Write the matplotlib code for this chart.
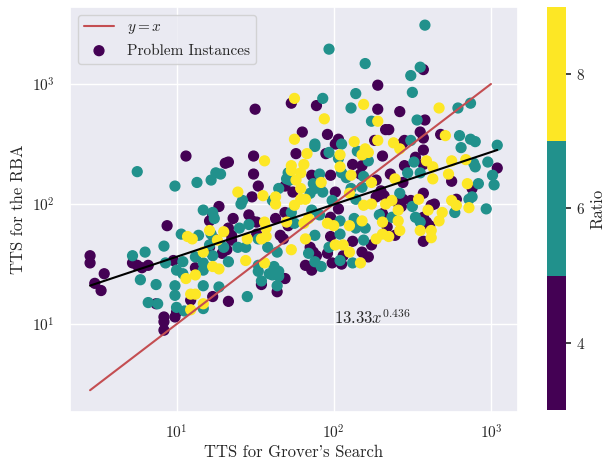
import numpy as np
import matplotlib.pyplot as plt
import seaborn as sns

# values, stored as log10(TTS)
# ratio 4 (purple)
grover_log_r4 = [2.28, 1.73, 1.50, 1.89, 2.28, 1.80, 1.96, 2.03, 2.26, 2.33, 2.57, 2.42, 2.58, 2.35,
                 2.55, 2.57, 2.68, 2.45, 1.06, 1.31, 1.27, 1.23, 1.21, 0.94, 1.24, 1.21, 1.29, 0.45,
                 0.45, 0.72, 0.75, 0.82, 0.78, 0.98, 1.12, 0.54, 0.48, 0.52, 0.92, 0.92, 0.92, 0.99,
                 1.00, 0.87, 1.09, 1.23, 1.33, 1.54, 1.64, 1.69, 1.32, 2.01, 1.33, 1.49, 1.76, 1.95,
                 2.31, 2.12, 2.18, 1.86, 1.98, 2.17, 2.27, 1.49, 1.52, 1.48, 1.69, 1.74, 1.91, 2.01,
                 2.03, 2.27, 2.30, 1.36, 1.33, 1.35, 1.46, 1.48, 1.51, 1.63, 1.69, 1.71, 1.98, 1.35,
                 1.51, 1.66, 1.68, 1.85, 1.87, 1.98, 1.96, 2.06, 2.12, 2.18, 2.24, 1.82, 1.86, 1.89,
                 1.99, 2.05, 2.22, 2.44, 2.52, 2.57, 2.57, 2.45, 3.04, 2.75, 2.88, 2.78, 2.64, 2.62,
                 2.57, 2.36, 2.44, 2.32, 2.40, 2.44, 2.43, 2.49, 2.34, 2.39, 2.57, 2.59, 2.61, 2.57,
                 2.31]
rba_log_r4 = [2.99, 2.84, 2.79, 2.82, 2.79, 2.60, 2.58, 2.54, 2.53, 2.62, 3.12, 2.77, 2.70, 2.62,
              2.60, 2.55, 2.58, 2.53, 2.40, 2.34, 1.98, 1.91, 1.86, 1.82, 1.71, 1.64, 1.59, 1.57,
              1.51, 1.51, 1.49, 1.49, 1.47, 1.53, 1.47, 1.42, 1.34, 1.28, 1.06, 1.02, 0.95, 1.06,
              1.10, 1.17, 1.20, 1.23, 1.19, 1.33, 1.27, 1.38, 1.62, 2.50, 2.35, 2.40, 2.42, 2.42,
              2.40, 2.33, 2.32, 2.24, 2.24, 2.25, 2.20, 2.25, 2.15, 2.06, 2.15, 2.10, 2.15, 2.10,
              1.96, 2.06, 2.11, 1.88, 1.80, 1.74, 1.91, 1.86, 1.85, 1.88, 1.93, 1.82, 1.89, 1.70,
              1.75, 1.74, 1.71, 1.64, 1.60, 1.73, 1.59, 1.57, 1.69, 1.60, 1.66, 1.49, 1.45, 1.57,
              1.51, 1.50, 1.56, 2.51, 2.39, 2.45, 2.33, 2.32, 2.30, 2.19, 2.13, 2.04, 2.00, 1.99,
              2.09, 2.25, 2.18, 2.07, 2.02, 2.04, 1.98, 2.03, 1.81, 1.74, 1.89, 1.85, 1.82, 1.69,
              1.92]

# ratio 6 (teal)
grover_log_r6 = [1.97, 2.20, 1.93, 2.14, 2.11, 2.24, 1.88, 2.05, 2.58, 2.55, 2.49, 2.50, 2.79, 2.87,
                 2.53, 2.80, 2.87, 2.90, 2.49, 3.04, 0.75, 1.25, 1.28, 0.99, 1.13, 1.22, 1.17, 1.23,
                 1.24, 1.03, 1.14, 1.22, 0.92, 1.21, 1.30, 1.23, 0.80, 0.72, 0.93, 1.04, 1.12, 1.17,
                 1.17, 1.00, 1.04, 0.77, 0.87, 0.99, 0.99, 0.82, 0.88, 1.00, 1.17, 1.05, 1.17, 1.27,
                 1.45, 1.54, 1.64, 1.61, 1.65, 1.88, 1.97, 2.03, 2.15, 2.22, 1.71, 1.91, 2.05, 2.08,
                 2.19, 1.42, 1.41, 1.61, 1.65, 1.72, 1.70, 1.85, 1.88, 1.87, 1.93, 1.99, 2.14, 2.11,
                 2.18, 1.40, 1.46, 1.73, 1.75, 1.86, 1.91, 2.04, 2.13, 2.14, 2.20, 2.29, 1.39, 1.44,
                 1.52, 1.58, 1.64, 1.84, 1.88, 2.04, 1.97, 2.19, 2.12, 1.33, 1.52, 1.52, 1.62, 1.59,
                 1.65, 1.88, 1.92, 2.04, 2.81, 2.51, 2.89, 2.90, 2.98, 2.47, 2.55, 3.01, 3.02, 2.92,
                 2.88, 2.86, 2.97, 2.77, 2.42, 2.50, 2.37, 2.52, 2.55]
rba_log_r6 = [3.29, 3.17, 2.88, 2.92, 2.80, 2.69, 2.50, 2.50, 3.49, 3.14, 3.07, 2.93, 2.80, 2.84,
              2.70, 2.57, 2.54, 2.52, 2.53, 2.49, 2.27, 2.26, 2.25, 2.15, 2.18, 2.20, 1.95, 1.93,
              1.88, 1.75, 1.74, 1.75, 1.65, 1.66, 1.64, 1.57, 1.60, 1.57, 1.51, 1.52, 1.56, 1.51,
              1.45, 1.45, 1.42, 1.37, 1.33, 1.32, 1.24, 1.18, 1.17, 1.14, 1.32, 1.11, 1.13, 1.31,
              1.23, 1.36, 1.32, 1.41, 1.40, 2.48, 2.43, 2.38, 2.44, 2.36, 2.26, 2.25, 2.26, 2.22,
              2.23, 2.03, 2.00, 2.03, 2.13, 2.20, 2.21, 2.09, 2.13, 2.17, 2.10, 2.03, 2.04, 2.13,
              2.14, 1.80, 1.83, 1.93, 1.84, 1.95, 1.91, 1.86, 1.88, 1.80, 1.80, 1.91, 1.64, 1.64,
              1.71, 1.64, 1.60, 1.59, 1.74, 1.75, 1.64, 1.70, 1.51, 1.52, 1.49, 1.44, 1.48, 1.42,
              1.44, 1.52, 1.48, 1.53, 2.47, 2.35, 2.34, 2.31, 2.35, 2.26, 2.26, 2.24, 2.16, 2.17,
              2.06, 2.04, 1.96, 1.93, 2.09, 1.98, 1.89, 1.89, 1.85]

# ratio 8 (yellow)
grover_log_r8 = [1.75, 2.19, 1.94, 2.28, 1.75, 2.13, 2.28, 2.67, 2.71, 2.38, 1.21, 1.30, 1.07, 1.10,
                 1.26, 1.17, 1.23, 1.27, 1.06, 1.12, 1.09, 1.12, 1.09, 1.17, 2.20, 1.56, 1.83, 2.04,
                 2.18, 2.22, 1.73, 1.81, 1.73, 1.79, 2.04, 2.11, 2.24, 1.39, 1.55, 1.63, 1.63, 1.76,
                 1.79, 1.79, 1.82, 1.92, 2.10, 2.19, 2.24, 1.56, 1.57, 1.75, 1.70, 1.81, 1.84, 1.96,
                 2.00, 2.18, 2.10, 2.31, 2.31, 1.45, 1.54, 1.57, 1.73, 1.82, 2.01, 2.06, 2.10, 2.27,
                 1.44, 1.56, 2.17, 2.42, 2.59, 2.63, 2.75, 2.84, 2.63, 2.73, 2.85, 2.86, 2.78, 2.75,
                 2.69, 2.67, 2.60, 2.54, 2.39, 2.33, 2.37, 2.41, 2.41, 2.42, 2.35, 2.55, 2.62, 2.62]
rba_log_r8 = [2.88, 2.83, 2.71, 2.69, 2.54, 2.52, 2.53, 2.80, 2.57, 2.51, 1.78, 1.77, 1.73, 1.71,
              1.70, 1.60, 1.48, 1.46, 1.38, 1.41, 1.25, 1.25, 1.12, 1.17, 2.46, 2.36, 2.42, 2.41,
              2.41, 2.43, 2.32, 2.33, 2.28, 2.26, 2.31, 2.24, 2.18, 2.10, 2.07, 2.06, 2.00, 2.20,
              2.13, 2.04, 2.04, 2.18, 2.09, 1.99, 2.00, 1.85, 1.80, 1.99, 1.85, 1.84, 1.88, 1.84,
              1.82, 1.86, 1.82, 1.85, 1.75, 1.71, 1.71, 1.73, 1.62, 1.71, 1.66, 1.66, 1.60, 1.71,
              1.53, 1.51, 1.51, 2.46, 2.36, 2.31, 2.36, 2.37, 2.21, 2.25, 2.17, 1.97, 1.99, 2.03,
              1.93, 1.86, 1.95, 2.04, 2.21, 2.00, 2.03, 1.95, 1.86, 1.78, 1.73, 1.78, 1.78, 1.72]

ratios = [4, 6, 8]
fit_coef = 13.33
fit_exp = 0.436

grover = 10 ** np.array(grover_log_r4 + grover_log_r6 + grover_log_r8)
rba = 10 ** np.array(rba_log_r4 + rba_log_r6 + rba_log_r8)
ratio = np.array([ratios[0]] * len(grover_log_r4) + [ratios[1]] * len(grover_log_r6)
                 + [ratios[2]] * len(grover_log_r8))

sns.set_theme(style='darkgrid')
plt.rcParams.update({
    'font.family': 'serif',
    'font.serif': ['cmr10'],
    'mathtext.fontset': 'cm',
    'axes.formatter.use_mathtext': True,
})

fig = plt.figure(figsize=(6.16, 4.59), dpi=100)
ax = fig.add_axes([0.1136, 0.102, 0.7273, 0.883])
cax = fig.add_axes([0.888, 0.107, 0.031, 0.878])

cmap = plt.get_cmap('viridis', 3)

# y = x reference
xs = np.linspace(grover.min(), 1000, 100)
ax.plot(xs, xs, color='#c44e52', lw=1.5, label='$y=x$')

sc = ax.scatter(grover, rba, c=ratio, cmap=cmap, vmin=3, vmax=9, s=50,
                label='Problem Instances')

# power-law fit
xf = np.linspace(grover.min(), grover.max(), 200)
ax.plot(xf, fit_coef * xf ** fit_exp, color='black', lw=1.5)
ax.text(100, 10, r'$%.2fx^{%.3f}$' % (fit_coef, fit_exp), fontsize=12)

ax.set_xscale('log')
ax.set_yscale('log')
ax.set_xlim(2.10, 1486)
ax.set_ylim(1.85, 4385)
ax.set_xlabel("TTS for Grover's Search", fontsize=12, labelpad=2)
ax.set_ylabel('TTS for the RBA', fontsize=12)
ax.tick_params(labelsize=11)
ax.tick_params(axis='x', pad=2)
ax.tick_params(axis='y', pad=5)
ax.legend(loc='upper left', fontsize=11)

cbar = fig.colorbar(sc, cax=cax, ticks=[4, 6, 8])
cbar.set_label('Ratio', fontsize=12)
cbar.outline.set_visible(False)
cbar.ax.tick_params(length=3.5, width=1.2, color='#222222', labelsize=11)

fig.savefig('out.png', dpi=100)
